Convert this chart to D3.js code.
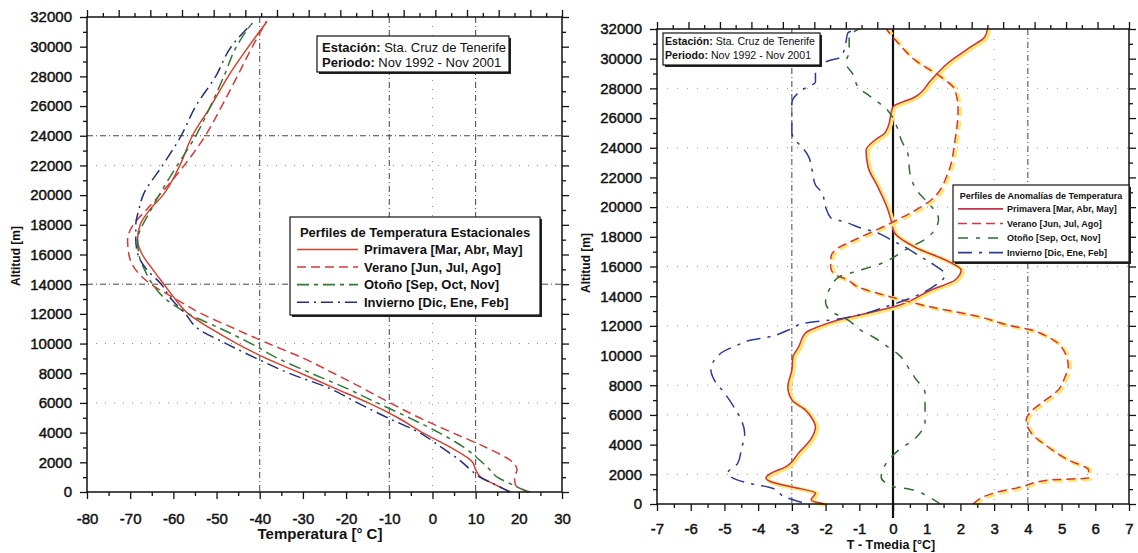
<!DOCTYPE html>
<html>
<head>
<meta charset="utf-8">
<script src="https://cdn.jsdelivr.net/npm/d3@7"></script>
<style>
body { margin:0; background:#fff; }
text { font-family: "Liberation Sans", Arial, sans-serif; }
</style>
</head>
<body>
<div id="chart"></div>
<script>
// series names
var seasons = ["Primavera [Mar, Abr, May]", "Verano [Jun, Jul, Ago]", "Otoño [Sep, Oct, Nov]", "Invierno [Dic, Ene, Feb]"];

// left panel: seasonal temperature profiles (altitude m -> deg C)
var altT = [0, 500, 1000, 1500, 2000, 3000, 4000, 5000, 6000, 7000, 8000, 9000, 10000, 11000, 12000, 13000, 14000, 15000, 16000, 17000, 18000, 19000, 20000, 22000, 24000, 26000, 28000, 30000, 31700];
var tPrimavera = [18.0, 14.5, 11.2, 10.0, 9.3, 4.2, -2.3, -8.0, -14.8, -22.7, -30.5, -38.5, -45.3, -51.3, -56.5, -59.6, -62.2, -64.8, -67.2, -68.3, -67.7, -65.5, -62.4, -58.5, -55.6, -51.3, -47.3, -42.6, -38.3];
var tVerano = [22.6, 19.2, 19.0, 19.6, 18.6, 12.4, 4.6, -3.0, -9.8, -16.2, -22.9, -29.8, -38.0, -45.8, -53.4, -59.4, -65.2, -68.8, -70.3, -70.6, -69.3, -66.3, -63.2, -57.5, -52.6, -48.8, -45.2, -41.7, -38.5];
var tOtono = [22.0, 18.5, 15.0, 13.3, 11.5, 7.3, 1.5, -5.4, -12.8, -20.0, -28.1, -35.8, -42.0, -49.0, -56.5, -61.8, -64.8, -66.7, -68.0, -68.3, -67.1, -65.2, -63.3, -59.1, -54.8, -51.4, -48.3, -45.4, -41.5];
var tInvierno = [18.0, 14.5, 11.0, 8.8, 6.9, 2.1, -3.0, -10.4, -17.3, -24.0, -33.2, -40.8, -47.8, -54.3, -57.2, -60.5, -62.8, -66.2, -68.2, -68.7, -68.7, -68.0, -67.0, -62.5, -58.2, -54.8, -50.2, -46.6, -41.3];

// right panel: anomalies T - Tmedia (altitude m -> deg C)
var altPrimA = [0, 270, 740, 1150, 1480, 1750, 2090, 2490, 3440, 4510, 5190, 5860, 6330, 7010, 7880, 9030, 9900, 10580, 11520, 11930, 12400, 12870, 13270, 14420, 15090, 15760, 16240, 17310, 18250, 19130, 19810, 21360, 22700, 23850, 24520, 25000, 25400, 26750, 27420, 28560, 29710, 30790, 31460, 32000];
var aPrimavera = [-2.03, -2.43, -2.3, -3.0, -3.6, -3.77, -3.6, -3.2, -2.8, -2.4, -2.3, -2.43, -2.6, -3.0, -3.12, -3.0, -2.97, -2.8, -2.6, -2.23, -1.63, -0.74, 0, 1.13, 1.84, 2.02, 1.73, 0.65, 0.05, -0.06, -0.15, -0.45, -0.74, -0.8, -0.53, -0.24, -0.15, 0, 0.65, 1.13, 1.63, 2.3, 2.72, 2.8];
var altVerA = [0, 740, 1150, 1610, 1750, 2290, 2960, 3840, 4780, 5660, 6130, 6800, 7680, 8560, 9230, 10580, 11250, 11720, 12060, 12600, 13270, 13950, 14620, 15090, 15500, 15970, 16640, 17250, 17580, 18930, 20480, 22300, 24520, 26540, 27890, 28770, 29910, 31060, 32000];
var aVerano = [2.37, 3.0, 3.8, 4.6, 5.8, 5.8, 5.2, 4.6, 4.1, 3.95, 4.05, 4.4, 4.9, 5.1, 5.2, 5.0, 4.6, 4.1, 3.4, 2.6, 1.13, -0.06, -1.04, -1.34, -1.75, -1.85, -1.84, -1.63, -1.34, -0.06, 1.13, 1.63, 1.84, 1.93, 1.84, 1.42, 0.65, 0.15, -0.2];
var altOtoA = [0, 500, 1000, 1150, 1800, 2900, 3600, 4400, 5600, 6500, 7500, 8500, 9200, 10100, 10500, 11200, 11700, 12400, 13000, 13600, 14600, 15300, 15600, 16200, 17100, 18000, 19200, 20500, 21000, 22300, 23500, 24500, 25500, 26500, 27500, 28000, 29000, 29700, 30500, 31500, 32000];
var aOtono = [1.4, 1.04, 0.5, 0.05, -0.35, -0.15, 0.15, 0.65, 0.95, 0.95, 0.95, 0.65, 0.45, 0.15, -0.1, -0.55, -0.95, -1.34, -1.85, -2.0, -1.85, -1.6, -1.2, -0.35, 0.35, 1.05, 1.35, 0.95, 0.75, 0.5, 0.45, 0.25, 0.1, -0.15, -0.7, -1.0, -1.2, -1.4, -1.3, -1.3, -1.0];
var altInvA = [100, 470, 1080, 1410, 2090, 2760, 3640, 4780, 5660, 6470, 7480, 8350, 9030, 10170, 10710, 11050, 11250, 11720, 12190, 12400, 13410, 14550, 15430, 16240, 16640, 17310, 17790, 18260, 18660, 19000, 19270, 20010, 20950, 21490, 22500, 23380, 24050, 24520, 25000, 26070, 27010, 27890, 28430, 29370, 29910, 30110, 31060, 31730, 32000];
var aInvierno = [-2.7, -3.2, -3.6, -4.3, -4.9, -4.6, -4.5, -4.4, -4.5, -4.7, -5.0, -5.3, -5.4, -5.1, -4.6, -4.2, -3.7, -3.1, -2.6, -1.84, -0.06, 1.13, 1.54, 1.13, 0.83, 0.36, -0.06, -0.45, -1.04, -1.42, -1.84, -2.0, -2.1, -2.3, -2.4, -2.5, -2.7, -2.9, -3.0, -3.0, -3.0, -2.7, -2.3, -2.3, -1.84, -1.54, -1.4, -1.34, -1.0];

// ticks and grid
var tTicks = d3.range(-80, 31, 10);
var tMinor = d3.range(-75, 30, 10);
var aTicks = d3.range(-7, 8, 1);
var aMinor = d3.range(-6.5, 7, 1);
var altTicks = d3.range(0, 32001, 2000);
var altMinor = d3.range(1000, 32000, 2000);
var gridT_dash = [-40, -10, 10], gridT_dot = [0];
var gridAltL_dash = [24000, 14000], gridAltL_dot = [22000, 10000, 6000];
var gridA_dash = [-3, 4], gridA_dot = [3];
var gridAltR_dot = [28000, 24000, 20000, 16000, 12000, 8000, 6000, 2000];

var colors = ["#d8402c", "#d63a3a", "#2f7a34", "#24307e"];
var dashes = [null, "9,5", "12,5,4,5", "12,5,2,5"];
var rColors = ["#c8324a", "#d0364a", "#2f6b30", "#2b3a9c"];
var rDashes = [null, "9,5", "10,8,4,8", "14,7,3,7"];

var svg = d3.select("#chart").append("svg")
    .attr("width", 1138)
    .attr("height", 553);

var xT = d3.scaleLinear().domain([-80, 30]).range([87, 562]);
var yL = d3.scaleLinear().domain([0, 32000]).range([492, 17]);
var xA = d3.scaleLinear().domain([-7, 7]).range([657, 1129]);
var yR = d3.scaleLinear().domain([0, 32000]).range([504, 29]);

function fmt(d) { return String(d); }

function frame(g, x, y, xMaj, xMin, yMaj, yMin, xPad) {
    var x0 = x.range()[0], x1 = x.range()[1], y0 = y.range()[0], y1 = y.range()[1];
    var top = d3.scaleLinear().domain([0, 30]).range([x0, x1]);
    var axes = [
        [d3.axisBottom(x).tickValues(xMaj).tickSize(7).tickPadding(xPad).tickFormat(fmt), "translate(0," + y0 + ")"],
        [d3.axisBottom(x).tickValues(xMin).tickSize(4).tickFormat(""), "translate(0," + y0 + ")"],
        [d3.axisLeft(y).tickValues(yMaj).tickSize(7).tickPadding(8).tickFormat(fmt), "translate(" + x0 + ",0)"],
        [d3.axisLeft(y).tickValues(yMin).tickSize(4).tickFormat(""), "translate(" + x0 + ",0)"],
        [d3.axisRight(y).tickValues(yMaj).tickSize(7).tickFormat(""), "translate(" + x1 + ",0)"],
        [d3.axisRight(y).tickValues(yMin).tickSize(4).tickFormat(""), "translate(" + x1 + ",0)"],
        [d3.axisTop(top).tickValues(d3.range(0, 31, 2)).tickSize(7).tickFormat(""), "translate(0," + y1 + ")"],
        [d3.axisTop(top).tickValues(d3.range(1, 30, 2)).tickSize(4).tickFormat(""), "translate(0," + y1 + ")"]
    ];
    axes.forEach(function(a) {
        var ag = g.append("g").attr("transform", a[1]).call(a[0]);
        ag.select(".domain").remove();
        ag.selectAll("line").attr("stroke", "#111").attr("stroke-width", 1.3);
        ag.attr("font-size", 15).attr("font-family", null);
        ag.selectAll("text").attr("fill", "#111").attr("stroke", "#111").attr("stroke-width", 0.45);
    });
    g.append("rect")
        .attr("x", x0).attr("y", y1)
        .attr("width", x1 - x0).attr("height", y0 - y1)
        .attr("fill", "none")
        .attr("stroke", "#111")
        .attr("stroke-width", 1.5);
}

function grid(g, x, y, xs, ys, dash, color) {
    g.selectAll(null).data(xs).enter().append("line")
        .attr("x1", function(d) { return x(d); }).attr("x2", function(d) { return x(d); })
        .attr("y1", y.range()[1]).attr("y2", y.range()[0])
        .attr("stroke", color).attr("stroke-width", 1).attr("stroke-dasharray", dash);
    g.selectAll(null).data(ys).enter().append("line")
        .attr("y1", function(d) { return y(d); }).attr("y2", function(d) { return y(d); })
        .attr("x1", x.range()[0]).attr("x2", x.range()[1])
        .attr("stroke", color).attr("stroke-width", 1).attr("stroke-dasharray", dash);
}

function infoBox(g, bx, by, bw, bh, fs, tx, ty1, ty2) {
    g.append("rect").attr("x", bx + 2).attr("y", by + 2).attr("width", bw).attr("height", bh).attr("fill", "#222");
    g.append("rect").attr("x", bx).attr("y", by).attr("width", bw).attr("height", bh)
        .attr("fill", "#fff").attr("stroke", "#111").attr("stroke-width", 1.2);
    var t1 = g.append("text").attr("x", tx).attr("y", ty1).attr("font-size", fs).attr("fill", "#111");
    t1.append("tspan").attr("font-weight", "bold").text("Estación:");
    t1.append("tspan").text(" Sta. Cruz de Tenerife");
    var t2 = g.append("text").attr("x", tx).attr("y", ty2).attr("font-size", fs).attr("fill", "#111");
    t2.append("tspan").attr("font-weight", "bold").text("Periodo:");
    t2.append("tspan").text(" Nov 1992 - Nov 2001");
}

function legend(g, bx, by, bw, bh, title, fs, titleY, rowY0, rowStep, lx0, lx1, tx, cols, dsh) {
    g.append("rect").attr("x", bx + 2).attr("y", by + 2).attr("width", bw).attr("height", bh).attr("fill", "#222");
    g.append("rect").attr("x", bx).attr("y", by).attr("width", bw).attr("height", bh)
        .attr("fill", "#fff").attr("stroke", "#111").attr("stroke-width", 1.2);
    g.append("text").attr("x", bx + bw / 2).attr("y", titleY).attr("text-anchor", "middle")
        .attr("font-size", fs).attr("font-weight", "bold").attr("fill", "#111").text(title);
    seasons.forEach(function(s, i) {
        var yy = rowY0 + i * rowStep;
        g.append("line").attr("x1", lx0).attr("x2", lx1).attr("y1", yy - fs * 0.35).attr("y2", yy - fs * 0.35)
            .attr("stroke", cols[i]).attr("stroke-width", 1.6).attr("stroke-dasharray", dsh[i]);
        g.append("text").attr("x", tx).attr("y", yy).attr("font-size", fs).attr("font-weight", "bold")
            .attr("fill", "#111").text(s);
    });
}

// ---------- left panel ----------
var gL = svg.append("g");
grid(gL, xT, yL, gridT_dash, gridAltL_dash, "6,3,1,3", "#444");
grid(gL, xT, yL, gridT_dot, gridAltL_dot, "1,8", "#888");

var lineL = d3.line()
    .x(function(d) { return xT(d[1]); })
    .y(function(d) { return yL(d[0]); })
    .curve(d3.curveMonotoneY);

[tPrimavera, tVerano, tOtono, tInvierno].forEach(function(vals, i) {
    gL.append("path")
        .datum(d3.zip(altT, vals))
        .attr("d", lineL)
        .attr("fill", "none")
        .attr("stroke", colors[i])
        .attr("stroke-width", 1.5)
        .attr("stroke-dasharray", dashes[i]);
});

frame(gL, xT, yL, tTicks, tMinor, altTicks, altMinor, 14);

infoBox(gL, 317, 36, 192, 36, 13, 322, 52, 67);
legend(gL, 290, 217, 250, 98, "Perfiles de Temperatura Estacionales", 13, 237, 254, 17.6, 297, 358, 364, colors, dashes);

gL.append("text").attr("x", 320).attr("y", 539).attr("text-anchor", "middle")
    .attr("font-size", 15).attr("font-weight", "bold").attr("fill", "#111").text("Temperatura [° C]");
gL.append("text").attr("transform", "translate(20,256) rotate(-90)").attr("text-anchor", "middle")
    .attr("font-size", 12).attr("font-weight", "bold").attr("fill", "#111").text("Altitud [m]");

// ---------- right panel ----------
var gR = svg.append("g");
grid(gR, xA, yR, gridA_dash, [], "6,3,1,3", "#444");
grid(gR, xA, yR, gridA_dot, gridAltR_dot, "1,9", "#999");

gR.append("line")
    .attr("x1", xA(0)).attr("x2", xA(0))
    .attr("y1", yR.range()[1]).attr("y2", yR.range()[0] + 14)
    .attr("stroke", "#111").attr("stroke-width", 2.2);

var lineR = d3.line()
    .x(function(d) { return xA(d[1]); })
    .y(function(d) { return yR(d[0]); })
    .curve(d3.curveMonotoneY);

var anom = [[altPrimA, aPrimavera], [altVerA, aVerano], [altOtoA, aOtono], [altInvA, aInvierno]];
anom.forEach(function(s, i) {
    var pts = d3.zip(s[0], s[1]);
    if (i < 2) {
        // yellowish halo of the scanned original
        gR.append("path").datum(pts).attr("d", lineR)
            .attr("transform", "translate(1.8,1)")
            .attr("fill", "none").attr("stroke", "#ffe66e").attr("stroke-width", 4)
            .attr("stroke-dasharray", rDashes[i]);
    }
    gR.append("path").datum(pts).attr("d", lineR)
        .attr("fill", "none")
        .attr("stroke", rColors[i])
        .attr("stroke-width", 1.5)
        .attr("stroke-dasharray", rDashes[i]);
});

frame(gR, xA, yR, aTicks, aMinor, altTicks, altMinor, 12);

infoBox(gR, 663, 33, 157, 32, 10.6, 665, 45, 59);
legend(gR, 953, 185, 176, 77, "Perfiles de Anomalías de Temperatura", 9, 199, 212, 14.6, 958, 1003, 1007, rColors, rDashes);

gR.append("text").attr("x", 891).attr("y", 549).attr("text-anchor", "middle")
    .attr("font-size", 12.5).attr("font-weight", "bold").attr("fill", "#111").text("T - Tmedia [°C]");
gR.append("text").attr("transform", "translate(590,263) rotate(-90)").attr("text-anchor", "middle")
    .attr("font-size", 12).attr("font-weight", "bold").attr("fill", "#111").text("Altitud [m]");
</script>
</body>
</html>
